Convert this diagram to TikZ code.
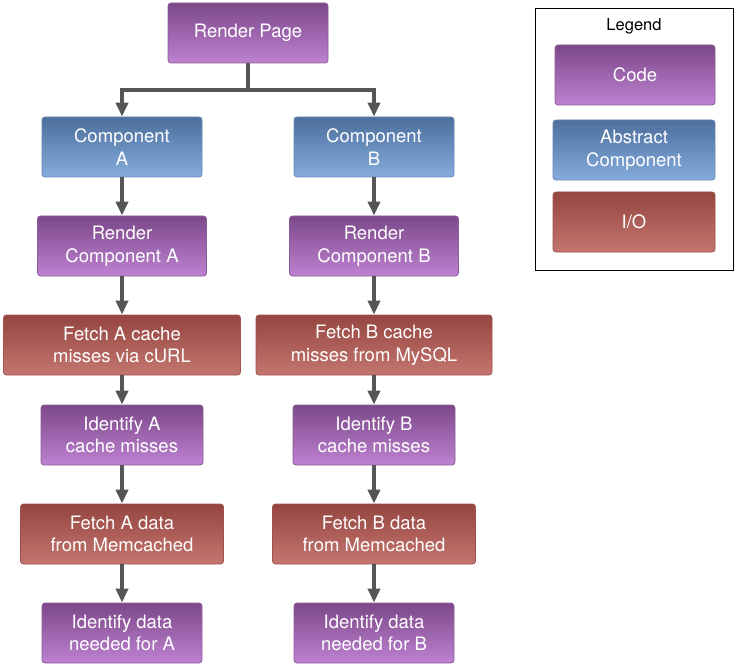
\documentclass[tikz,border=0pt]{standalone}
\usepackage{fontspec}
\setmainfont{TeX Gyre Heros}
\usepackage{xcolor}
\usepackage{tikz}
\usetikzlibrary{arrows.meta}

\definecolor{codetop}{HTML}{7C4889}
\definecolor{codebot}{HTML}{BE82D1}
\definecolor{codeline}{HTML}{8E5C9C}
\definecolor{abstop}{HTML}{4C6F9C}
\definecolor{absbot}{HTML}{85ACDD}
\definecolor{absline}{HTML}{6688B4}
\definecolor{iotop}{HTML}{964540}
\definecolor{iobot}{HTML}{C3766F}
\definecolor{ioline}{HTML}{9E524C}
\definecolor{arrowgray}{HTML}{555555}

\tikzset{
  box/.style={draw, line width=0.8pt, rounded corners=3pt, text=white, align=center,
    minimum height=60pt, inner sep=2pt, font=\fontsize{18.5}{22.7}\selectfont},
  code/.style={box, draw=codeline, top color=codetop, bottom color=codebot},
  abstract/.style={box, draw=absline, top color=abstop, bottom color=absbot},
  io/.style={box, draw=ioline, top color=iotop, bottom color=iobot},
  flow/.style={draw=arrowgray, line width=4pt, -{Triangle[width=12pt,length=14pt]}}
}

\begin{document}
\begin{tikzpicture}[x=1pt,y=-1pt]
      \useasboundingbox (0,0) rectangle (735,668);

      % Top of the tree
      \node[code, minimum width=160pt] (page) at (248,33) {Render Page};
      \coordinate (split) at (248,90);

      % Column A
      \node[abstract, minimum width=160pt] (compA) at (122,147) {Component\\A};
      \node[code, minimum width=169pt] (renderA) at (122,246) {Render\\Component A};
      \node[io, minimum width=237pt] (missA) at (122,345) {Fetch A cache\\misses via cURL};
      \node[code, minimum width=162pt] (identA) at (122,435) {Identify A\\cache misses};
      \node[io, minimum width=203pt] (fetchA) at (122,534) {Fetch A data\\from Memcached};
      \node[code, minimum width=160pt] (needA) at (122,633) {Identify data\\needed for A};

      % Column B
      \node[abstract, minimum width=160pt] (compB) at (374,147) {Component\\B};
      \node[code, minimum width=169pt] (renderB) at (374,246) {Render\\Component B};
      \node[io, minimum width=236pt] (missB) at (374,345) {Fetch B cache\\misses from MySQL};
      \node[code, minimum width=162pt] (identB) at (374,435) {Identify B\\cache misses};
      \node[io, minimum width=203pt] (fetchB) at (374,534) {Fetch B data\\from Memcached};
      \node[code, minimum width=160pt] (needB) at (374,633) {Identify data\\needed for B};

      % Connectors
      \draw[arrowgray, line width=4pt] (page.south) -- (split);
      \draw[flow] (split) -| (compA.north);
      \draw[flow] (split) -| (compB.north);
      \foreach \c in {A,B} {
        \draw[flow] (comp\c) -- (render\c);
        \draw[flow] (render\c) -- (miss\c);
        \draw[flow] (miss\c) -- (ident\c);
        \draw[flow] (ident\c) -- (fetch\c);
        \draw[flow] (fetch\c) -- (need\c);
      }

      % Legend
      \node[draw, line width=1pt, minimum width=198pt, minimum height=261pt, inner sep=0pt] (legend) at (634,139.5) {};
      \node[font=\fontsize{16.5}{19}\selectfont] (legendtitle) at (634,26) {Legend};
      \node[code, minimum width=160pt] (keycode) at (635,75) {Code};
      \node[abstract, minimum width=162pt] (keyabs) at (634,150) {Abstract\\Component};
      \node[io, minimum width=162pt] (keyio) at (634,222) {I/O};
    \end{tikzpicture}
\end{document}
